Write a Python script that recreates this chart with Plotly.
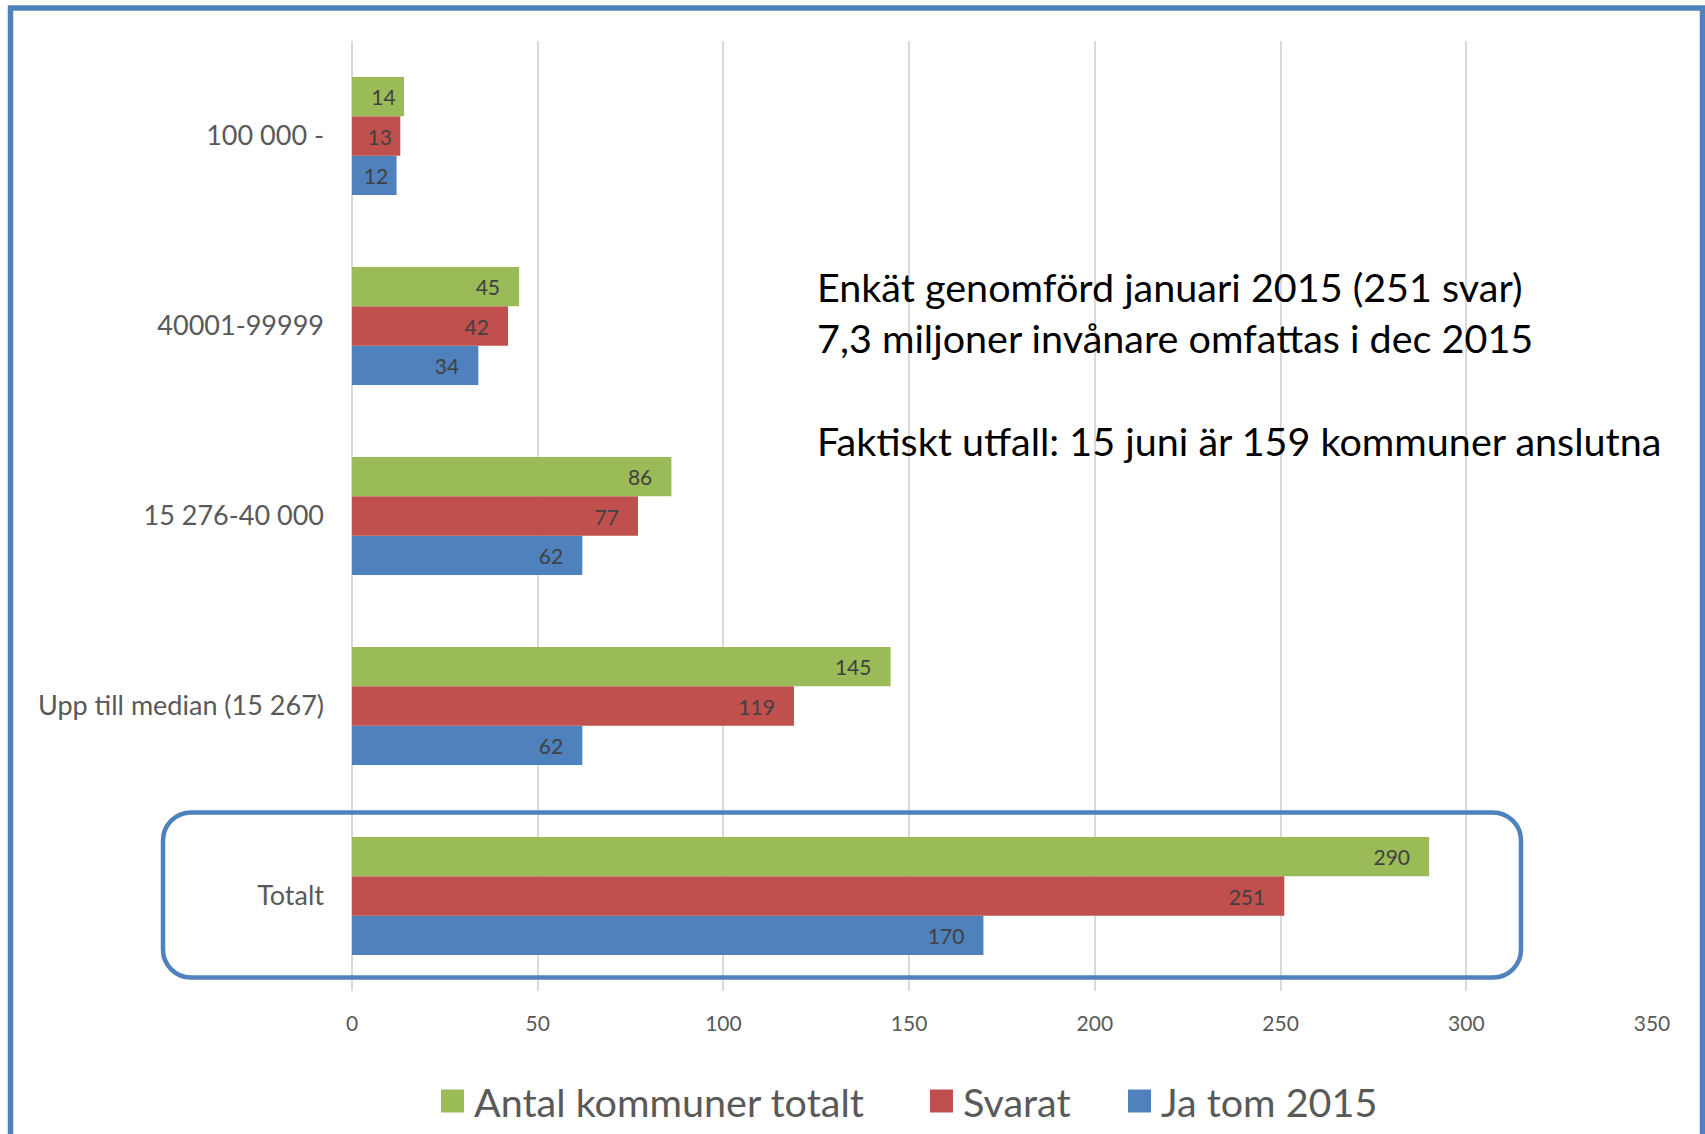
import plotly.graph_objects as go

# ---- data ----
categories = ["Totalt", "Upp till median (15 267)", "15 276-40 000", "40001-99999", "100 000 -"]
series_names = ["Antal kommuner totalt", "Svarat", "Ja tom 2015"]
antal = [290, 145, 86, 45, 14]
svarat = [251, 119, 77, 42, 13]
ja = [170, 62, 62, 34, 12]
x_ticks = [0, 50, 100, 150, 200, 250, 300, 350]
note_lines = [
    "Enkät genomförd januari 2015 (251 svar)",
    "7,3 miljoner invånare omfattas i dec 2015",
    "",
    "Faktiskt utfall: 15 juni är 159 kommuner anslutna",
]

colors = {"Antal kommuner totalt": "#9BBB59", "Svarat": "#C0504D", "Ja tom 2015": "#4F81BD"}
FONT = "Lato, Carlito, Calibri, sans-serif"

W, H = 1705, 1134
L, R, T, B = 352, 53, 41, 143
PW, PH = W - L - R, H - T - B


def px(x):
    return (x - L) / PW


def py(y):
    return (H - B - y) / PH


fig = go.Figure()
values = {"Antal kommuner totalt": antal, "Svarat": svarat, "Ja tom 2015": ja}
# plotly places the first trace at the bottom of each group
for name in reversed(series_names):
    vals = values[name]
    fig.add_trace(go.Bar(
        y=categories, x=vals, orientation="h", name=name,
        marker=dict(color=colors[name], line=dict(width=0)),
        text=[f"{v}\u00a0\u00a0\u00a0" if v >= 20 else f"{v}\u00a0" for v in vals],
        textposition="inside", insidetextanchor="end", constraintext="none",
        textfont=dict(family=FONT, size=21, color="#404040"),
        showlegend=False, hoverinfo="x+name",
    ))

shapes = []
# outer frame (left, top, right)
shapes.append(dict(type="path", xref="paper", yref="paper",
                   path=f"M{px(10.5)},{py(1140)} L{px(10.5)},{py(8)} L{px(1702.5)},{py(8)} L{px(1702.5)},{py(1140)}",
                   line=dict(color="#4F81BD", width=5.5)))
# rounded highlight box around "Totalt"
x0, x1, y0, y1, r = 163, 1521, 812.5, 977.5, 28
c = 0.5523 * r
p = (f"M{px(x0 + r)},{py(y0)} L{px(x1 - r)},{py(y0)} "
     f"C{px(x1 - r + c)},{py(y0)} {px(x1)},{py(y0 + r - c)} {px(x1)},{py(y0 + r)} "
     f"L{px(x1)},{py(y1 - r)} "
     f"C{px(x1)},{py(y1 - r + c)} {px(x1 - r + c)},{py(y1)} {px(x1 - r)},{py(y1)} "
     f"L{px(x0 + r)},{py(y1)} "
     f"C{px(x0 + r - c)},{py(y1)} {px(x0)},{py(y1 - r + c)} {px(x0)},{py(y1 - r)} "
     f"L{px(x0)},{py(y0 + r)} "
     f"C{px(x0)},{py(y0 + r - c)} {px(x0 + r - c)},{py(y0)} {px(x0 + r)},{py(y0)} Z")
shapes.append(dict(type="path", xref="paper", yref="paper", path=p,
                   line=dict(color="#4F81BD", width=4.5), fillcolor="rgba(0,0,0,0)"))

annotations = []
# manual legend
legend_pos = {"Antal kommuner totalt": 441, "Svarat": 930, "Ja tom 2015": 1128}
leg_y = 1101
for name in series_names:
    lx = legend_pos[name]
    shapes.append(dict(type="rect", xref="paper", yref="paper",
                       x0=px(lx), x1=px(lx + 23), y0=py(leg_y + 11.5), y1=py(leg_y - 11.5),
                       fillcolor=colors[name], line=dict(width=0)))
    annotations.append(dict(xref="paper", yref="paper", x=px(lx + 31), y=py(leg_y),
                            xanchor="left", yanchor="middle", showarrow=False, text=name,
                            font=dict(family=FONT, size=39.5, color="#595959")))

annotations.append(dict(xref="paper", yref="paper", x=px(815), y=py(363.5),
                        xanchor="left", yanchor="middle", align="left", showarrow=False,
                        text="<br>".join(note_lines),
                        font=dict(family=FONT, size=39.5, color="#000000")))

fig.update_layout(
    width=W, height=H,
    margin=dict(l=L, r=R, t=T, b=B, autoexpand=False),
    paper_bgcolor="white", plot_bgcolor="white",
    barmode="group", bargap=0.38, bargroupgap=0,
    shapes=shapes, annotations=annotations,
    font=dict(family=FONT),
)
fig.update_xaxes(range=[0, 350], tickvals=x_ticks, showgrid=True, gridcolor="#D9D9D9", gridwidth=1.5,
                 zeroline=True, zerolinecolor="#D9D9D9", zerolinewidth=1.5, showline=False, ticks="",
                 tickfont=dict(family=FONT, size=21, color="#595959"), ticklabelstandoff=18, fixedrange=True)
fig.update_yaxes(categoryorder="array", categoryarray=categories, showgrid=False, showline=False, ticks="",
                 tickfont=dict(family=FONT, size=27, color="#595959"), ticklabelstandoff=27, fixedrange=True)

fig.write_html(
    "out.html",
    config={"displayModeBar": False},
    post_script="document.body.style.margin='0';document.body.style.overflow='hidden';",
)
